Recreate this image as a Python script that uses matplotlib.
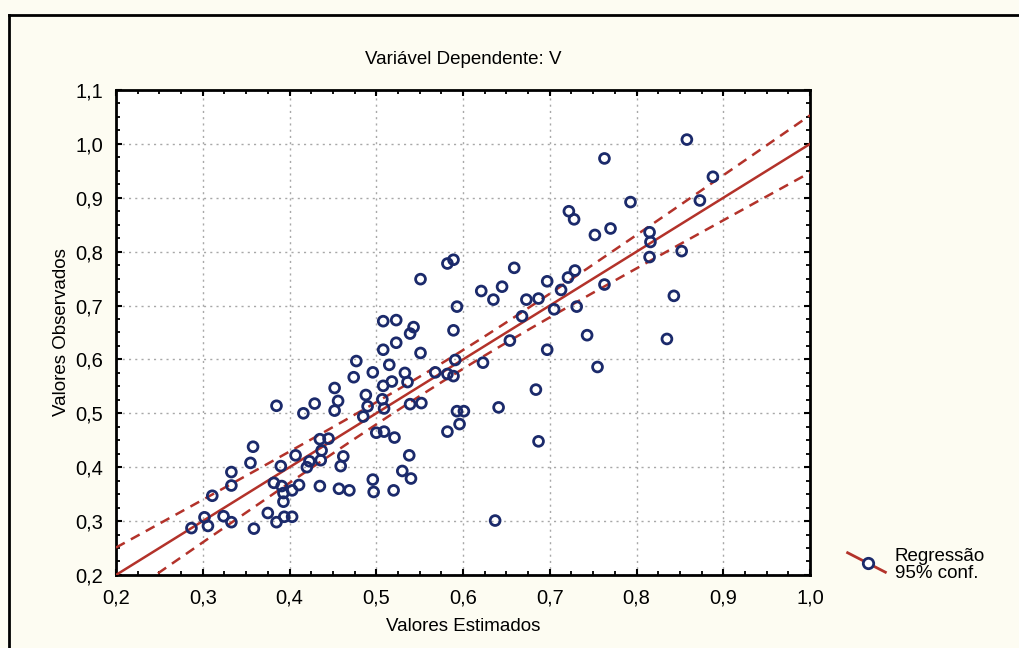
import matplotlib
matplotlib.use("Agg")
import matplotlib.pyplot as plt
import numpy as np
from matplotlib.lines import Line2D
from matplotlib.ticker import MultipleLocator, FuncFormatter

plt.rcParams['font.family'] = ['Liberation Sans', 'DejaVu Sans']

est = [0.287, 0.302, 0.306, 0.311, 0.324, 0.333, 0.333, 0.333, 0.355, 0.358,
       0.359, 0.375, 0.382, 0.385, 0.385, 0.390, 0.391, 0.393, 0.393, 0.394,
       0.403, 0.403, 0.407, 0.411, 0.416, 0.420, 0.423, 0.429, 0.435, 0.435,
       0.436, 0.437, 0.445, 0.452, 0.452, 0.456, 0.457, 0.459, 0.462, 0.469,
       0.474, 0.477, 0.485, 0.488, 0.490, 0.496, 0.496, 0.497, 0.500, 0.507,
       0.508, 0.508, 0.508, 0.509, 0.509, 0.515, 0.518, 0.520, 0.521, 0.523,
       0.523, 0.530, 0.533, 0.536, 0.538, 0.539, 0.539, 0.540, 0.543, 0.551,
       0.551, 0.552, 0.568, 0.582, 0.582, 0.589, 0.589, 0.589, 0.591, 0.593,
       0.593, 0.596, 0.601, 0.582, 0.621, 0.623, 0.635, 0.637, 0.641, 0.645,
       0.654, 0.659, 0.668, 0.673, 0.684, 0.687, 0.687, 0.697, 0.697, 0.705,
       0.713, 0.721, 0.722, 0.728, 0.729, 0.731, 0.743, 0.752, 0.755, 0.763,
       0.763, 0.770, 0.793, 0.815, 0.816, 0.815, 0.835, 0.843, 0.852, 0.858,
       0.873, 0.888]
obs = [0.287, 0.307, 0.291, 0.347, 0.309, 0.298, 0.366, 0.391, 0.408, 0.438,
       0.286, 0.315, 0.371, 0.514, 0.298, 0.402, 0.365, 0.352, 0.336, 0.308,
       0.357, 0.308, 0.422, 0.367, 0.500, 0.400, 0.411, 0.518, 0.452, 0.365,
       0.413, 0.431, 0.453, 0.547, 0.505, 0.523, 0.360, 0.402, 0.420, 0.357,
       0.567, 0.597, 0.494, 0.534, 0.513, 0.576, 0.377, 0.354, 0.464, 0.526,
       0.671, 0.618, 0.551, 0.509, 0.466, 0.590, 0.559, 0.357, 0.455, 0.673,
       0.631, 0.393, 0.575, 0.558, 0.422, 0.648, 0.517, 0.379, 0.660, 0.612,
       0.749, 0.519, 0.576, 0.778, 0.573, 0.785, 0.654, 0.569, 0.599, 0.698,
       0.504, 0.480, 0.504, 0.466, 0.727, 0.594, 0.711, 0.301, 0.511, 0.735,
       0.635, 0.770, 0.680, 0.711, 0.544, 0.713, 0.448, 0.745, 0.618, 0.693,
       0.729, 0.752, 0.875, 0.860, 0.765, 0.698, 0.645, 0.831, 0.586, 0.973,
       0.739, 0.843, 0.892, 0.836, 0.818, 0.790, 0.638, 0.718, 0.801, 1.008,
       0.895, 0.939]

# reta de regressao e faixa de 95%
slope = 1.0
intercept = 0.0
ci_base = 0.0003
ci_curv = 0.015
ci_center = 0.59

xticks = [0.2, 0.3, 0.4, 0.5, 0.6, 0.7, 0.8, 0.9, 1.0]
yticks = [0.2, 0.3, 0.4, 0.5, 0.6, 0.7, 0.8, 0.9, 1.0, 1.1]

red = "#b3322a"
navy = "#1b2a6b"
bg = "#fdfcf2"

fig = plt.figure(figsize=(10.2, 6.48), dpi=100, facecolor=bg)
ax = fig.add_axes([0.1137, 0.1127, 0.6805, 0.7484])
ax.set_facecolor("white")

xl = np.linspace(0.2, 1.0, 200)
yl = intercept + slope * xl
hw = np.sqrt(ci_base + ci_curv * (xl - ci_center) ** 2)
ax.plot(xl, yl, color=red, lw=1.8, zorder=3)
ax.plot(xl, yl + hw, color=red, lw=1.8, ls=(0, (4, 2.8)), zorder=3)
ax.plot(xl, yl - hw, color=red, lw=1.8, ls=(0, (4, 2.8)), zorder=3)

ax.scatter(est, obs, s=50, facecolors="none", edgecolors=navy, linewidths=2.0, zorder=4)

ax.set_xlim(0.2, 1.0)
ax.set_ylim(0.2, 1.1)
ax.set_xticks(xticks)
ax.set_yticks(yticks)
ax.xaxis.set_minor_locator(MultipleLocator(0.025))
ax.yaxis.set_minor_locator(MultipleLocator(0.025))
fmt = FuncFormatter(lambda v, p: f"{v:.1f}".replace(".", ","))
ax.xaxis.set_major_formatter(fmt)
ax.yaxis.set_major_formatter(fmt)
ax.tick_params(which="both", direction="in", top=True, right=True, color="black")
ax.tick_params(which="major", length=4, width=1.5, labelsize=14.5)
ax.tick_params(axis="x", which="major", pad=10)
ax.tick_params(axis="y", which="major", pad=9)
ax.tick_params(which="minor", length=3, width=1.3)
ax.grid(True, which="major", color="#a8a8a8", ls=(0, (1.5, 3)), lw=1.0)
for sp in ax.spines.values():
    sp.set_linewidth(2.0)
    sp.set_color("black")

ax.set_title("Variável Dependente: V", fontsize=13.5, pad=19)
ax.set_xlabel("Valores Estimados", fontsize=13.5, labelpad=7)
ax.set_ylabel("Valores Observados", fontsize=13.5, labelpad=4)

# legenda desenhada a mao (linha inclinada com o marcador)
fig.add_artist(Line2D([0.831, 0.868], [0.147, 0.117], color=red, lw=2.0,
                      transform=fig.transFigure))
fig.add_artist(Line2D([0.8505], [0.1317], marker="o", ms=7.5, mfc="white",
                      mec=navy, mew=2.0, transform=fig.transFigure))
fig.text(0.877, 0.128, "Regressão\n95% conf.", fontsize=13.5, va="center",
         ha="left", linespacing=0.95)

# moldura da pagina
fig.add_artist(Line2D([0.009, 1.0], [0.977, 0.977], color="black", lw=2.0,
                      transform=fig.transFigure))
fig.add_artist(Line2D([0.009, 0.009], [0.0, 0.977], color="black", lw=2.0,
                      transform=fig.transFigure))

fig.savefig("out.png", dpi=100, facecolor=bg)
